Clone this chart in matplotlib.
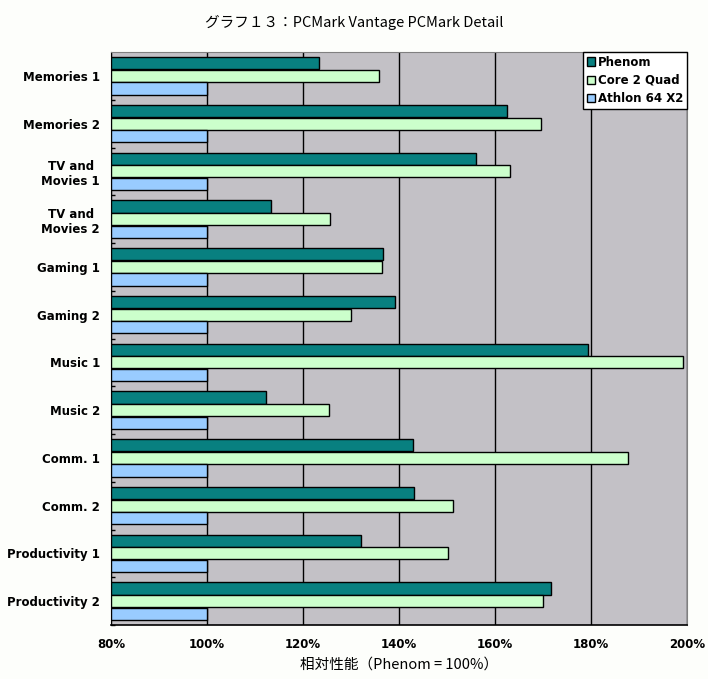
import numpy as np
import matplotlib
matplotlib.use("Agg")
import matplotlib.pyplot as plt
from matplotlib.ticker import FixedLocator, FuncFormatter

# data (relative performance, %)
categories = ["Memories 1", "Memories 2", "TV and\nMovies 1", "TV and\nMovies 2",
              "Gaming 1", "Gaming 2", "Music 1", "Music 2",
              "Comm. 1", "Comm. 2", "Productivity 1", "Productivity 2"]
phenom = [123.3, 162.5, 156.1, 113.3, 136.7, 139.2, 179.4, 112.3, 143.0, 143.1, 132.1, 171.7]
core2quad = [135.8, 169.5, 163.1, 125.6, 136.4, 130.0, 199.2, 125.4, 187.7, 151.3, 150.2, 169.9]
athlon = [100, 100, 100, 100, 100, 100, 100, 100, 100, 100, 100, 100]
series_names = ["Phenom", "Core 2 Quad", "Athlon 64 X2"]
xticks = [80, 100, 120, 140, 160, 180, 200]

colors = ["#088080", "#CCFFCC", "#99CCFF"]
jp = ["Noto Sans CJK JP", "DejaVu Sans"]

fig = plt.figure(figsize=(7.08, 6.79), dpi=100, facecolor="#FDFEFB")
ax = fig.add_axes([111 / 708, 1 - 625 / 679, 576 / 708, 573 / 679])
ax.set_facecolor("#C3C1C6")

y = np.arange(len(categories))
h = 0.264
base = 80
for k, (vals, name) in enumerate(zip([phenom, core2quad, athlon], series_names)):
    ax.barh(y + (k - 1) * h, np.array(vals) - base, left=base, height=h * 0.96,
            color=colors[k], edgecolor="black", linewidth=1.0, label=name, zorder=3)

ax.set_xlim(80, 200)
ax.set_ylim(len(categories) - 0.5, -0.5)
ax.set_xticks(xticks)
ax.xaxis.set_major_formatter(FuncFormatter(lambda v, p: f"{v:.0f}%"))
ax.tick_params(axis="x", length=0, pad=9)
for lab in ax.get_xticklabels():
    lab.set_fontweight("bold")
    lab.set_fontsize(8.5)

ax.set_yticks(y)
ax.set_yticklabels(categories, fontsize=8.5, fontweight="bold", multialignment="center")
ax.tick_params(axis="y", which="major", length=0, pad=8)
ax.yaxis.set_minor_locator(FixedLocator(np.arange(len(categories)) + 0.5))
ax.tick_params(axis="y", which="minor", direction="in", length=3, width=1, color="black")

ax.grid(axis="x", color="black", linewidth=1.0, zorder=1)
ax.set_axisbelow(True)

ax.spines["left"].set_color("black")
ax.spines["bottom"].set_color("black")
ax.spines["bottom"].set_linewidth(1.2)
ax.spines["top"].set_color("#808080")
ax.spines["right"].set_color("#808080")

ax.set_xlabel("相対性能（Phenom = 100%）", family=jp, fontsize=10.5, labelpad=5)
fig.text(0.5, 1 - 22 / 679, "グラフ１３：PCMark Vantage PCMark Detail",
         family=jp, fontsize=10.5, ha="center", va="center")

leg = ax.legend(loc="upper right", bbox_to_anchor=(1.0, 1.0),
                prop={"weight": "bold", "size": 8.5}, frameon=True, fancybox=False,
                edgecolor="black", framealpha=1, borderaxespad=0,
                handlelength=0.7, handleheight=0.7, handletextpad=0.25,
                labelspacing=0.45, borderpad=0.3)
leg.get_frame().set_linewidth(1.0)
leg.set_zorder(5)

fig.savefig("out.png", dpi=100, facecolor=fig.get_facecolor())
